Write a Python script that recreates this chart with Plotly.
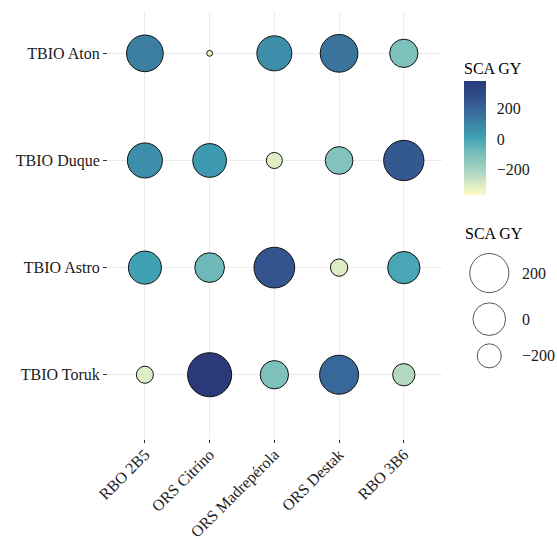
import numpy as np
import plotly.graph_objects as go

# ---------------- data ----------------
cultivars = ["RBO 2B5", "ORS Citrino", "ORS Madrepérola", "ORS Destak", "RBO 3B6"]
lines_bottom_to_top = ["TBIO Toruk", "TBIO Astro", "TBIO Duque", "TBIO Aton"]

sca_aton = [120, -371, 68, 153, -110]
sca_duque = [68, 30, -317, -124, 241]
sca_astro = [10, -77, 256, -303, -9]
sca_toruk = [-306, 384, -110, 196, -231]

legend_values = [200, 0, -200]
colorbar_ticks = [-200, 0, 200]

rows = {
    "TBIO Aton": sca_aton,
    "TBIO Duque": sca_duque,
    "TBIO Astro": sca_astro,
    "TBIO Toruk": sca_toruk,
}

# ---------------- styling ----------------
W, H = 557, 541
ML, MR, MT, MB = 108, 10, 12, 102
PW = W - ML - MR
PH = H - MT - MB
PANEL_RIGHT = 442
FONT = "Liberation Serif"

colorscale = [
    [0.00, "#fbfac4"],
    [0.09, "#dcecc5"],
    [0.19, "#b2d8c3"],
    [0.34, "#80c1bc"],
    [0.40, "#6bb7b9"],
    [0.50, "#3fa2b4"],
    [0.58, "#3d8eaa"],
    [0.67, "#3b799f"],
    [0.75, "#38679a"],
    [0.83, "#33548e"],
    [1.00, "#29397a"],
]

xs, ys, vs = [], [], []
for ln, vals in rows.items():
    for c, v in zip(cultivars, vals):
        xs.append(c)
        ys.append(ln)
        vs.append(v)
vs = np.array(vs, dtype=float)
vmin, vmax = vs.min(), vs.max()

D_MIN, D_SPAN = 6.8, 38.3


def diam(v):
    t = (np.asarray(v, dtype=float) - vmin) / (vmax - vmin)
    return D_MIN + D_SPAN * np.sqrt(np.clip(t, 0, 1))


def px_x(p):
    return (p - ML) / PW


def px_y(p):
    return (H - MB - p) / PH


BAR_TOP, BAR_BOTTOM = 81.7, 195.0
TITLE_SPACE = 23

fig = go.Figure()

fig.add_trace(go.Scatter(
    x=xs, y=ys, mode="markers",
    marker=dict(
        size=diam(vs) - 1,
        color=vs, cmin=vmin, cmax=vmax, colorscale=colorscale,
        line=dict(color="#111111", width=1),
        opacity=1,
        colorbar=dict(
            x=px_x(464), xanchor="left", xpad=0,
            y=px_y(BAR_BOTTOM), yanchor="bottom", ypad=0,
            len=(BAR_BOTTOM - BAR_TOP) + TITLE_SPACE, lenmode="pixels", thickness=22,
            outlinewidth=0,
            tickmode="array", tickvals=colorbar_ticks,
            ticks="outside", ticklen=8, tickcolor="rgba(0,0,0,0)",
            tickfont=dict(family=FONT, size=16, color="#1a1a1a"),
            title=dict(text="SCA GY", side="top",
                       font=dict(family=FONT, size=16, color="#000000")),
        ),
    ),
    showlegend=False, hoverinfo="skip",
))

# ----- size legend (drawn on a helper axis in pixel units) -----
leg_d = diam(legend_values)
key_h = 1.25 * leg_d
centers = np.cumsum(key_h) - key_h / 2
LEG_TOP, LEG_BOTTOM = 248, 375
LEG_LEFT, LEG_RIGHT = 464, 545
fig.add_trace(go.Scatter(
    x=[25.3] * len(legend_values), y=centers, mode="markers",
    marker=dict(size=leg_d - 1, color="white", line=dict(color="#111111", width=1)),
    xaxis="x2", yaxis="y2", showlegend=False, hoverinfo="skip",
))
for val, cy in zip(legend_values, centers):
    fig.add_annotation(
        x=56, y=cy, xref="x2", yref="y2", xanchor="left", yanchor="middle",
        text=("\u2212" + str(abs(val))) if val < 0 else str(val),
        showarrow=False, font=dict(family=FONT, size=16, color="#1a1a1a"),
    )
fig.add_annotation(
    x=px_x(463), y=px_y(233), xref="paper", yref="paper",
    xanchor="left", yanchor="middle", text="SCA GY", showarrow=False,
    font=dict(family=FONT, size=16, color="#000000"),
)

grid = "#ebebeb"
fig.update_layout(
    width=W, height=H,
    margin=dict(l=ML, r=MR, t=MT, b=MB, autoexpand=False),
    paper_bgcolor="white", plot_bgcolor="white",
    font=dict(family=FONT, size=16, color="#1a1a1a"),
    xaxis=dict(
        domain=[0, (PANEL_RIGHT - ML) / PW],
        type="category", categoryorder="array", categoryarray=cultivars,
        range=[-0.57, 4.59], automargin=False,
        showgrid=True, gridcolor=grid, gridwidth=1, zeroline=False, showline=False,
        ticks="outside", ticklen=3, tickcolor="#333333", tickwidth=1.2,
        ticklabelstandoff=-4,
        tickangle=-45, tickfont=dict(family=FONT, size=16, color="#1a1a1a"),
    ),
    yaxis=dict(
        domain=[0, 1],
        type="category", categoryorder="array", categoryarray=lines_bottom_to_top,
        range=[-0.6, 3.386], automargin=False,
        showgrid=True, gridcolor=grid, gridwidth=1, zeroline=False, showline=False,
        ticks="outside", ticklen=4, tickcolor="#333333", tickwidth=1.2,
        tickfont=dict(family=FONT, size=16, color="#1a1a1a"),
    ),
    xaxis2=dict(domain=[px_x(LEG_LEFT), px_x(LEG_RIGHT)], range=[0, LEG_RIGHT - LEG_LEFT],
                visible=False, anchor="y2", fixedrange=True),
    yaxis2=dict(domain=[px_y(LEG_BOTTOM), px_y(LEG_TOP)], range=[LEG_BOTTOM - LEG_TOP, 0],
                visible=False, anchor="x2", fixedrange=True),
)

fig.write_html(
    "out.html",
    config={"displayModeBar": False},
    post_script="document.body.style.margin='0px';document.body.style.padding='0px';",
)
